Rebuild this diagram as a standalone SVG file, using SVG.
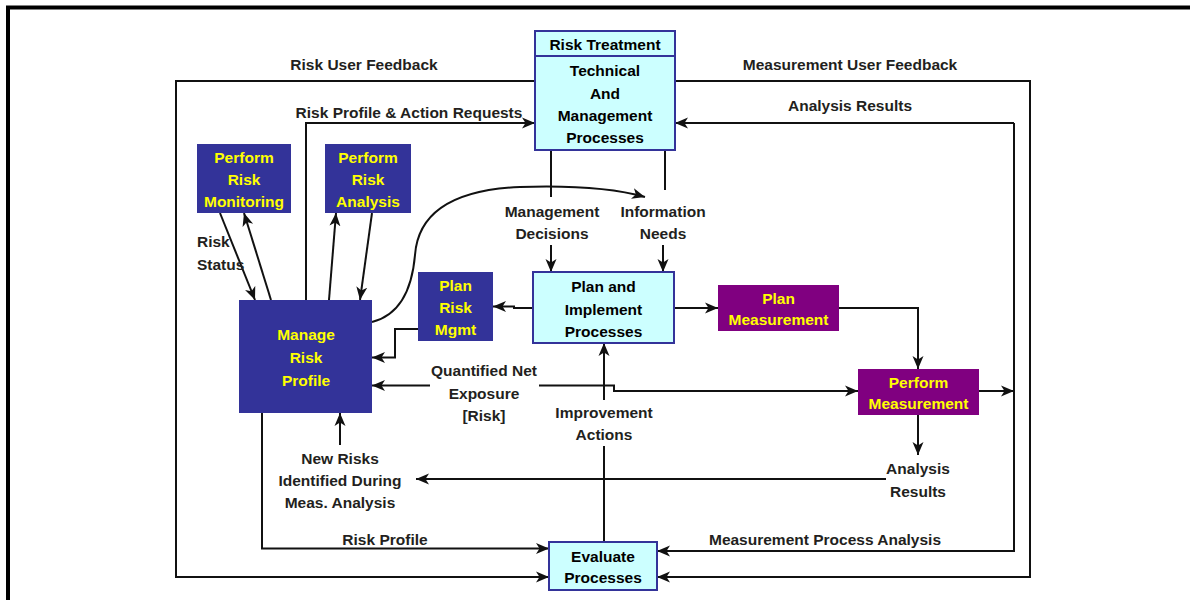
<svg xmlns="http://www.w3.org/2000/svg" width="1190" height="600" viewBox="0 0 1190 600">
  <defs>
    <marker id="arrow" markerUnits="userSpaceOnUse" markerWidth="14" markerHeight="12" refX="13" refY="6" orient="auto" viewBox="0 0 14 12">
      <path d="M0,0.5 L13,6 L0,11.5 L3.5,6 z" fill="#111"/>
    </marker>
  </defs>
  <style>
    text { font-family: "Liberation Sans", Arial, sans-serif; font-weight: bold; font-size: 15.5px; text-anchor: middle; }
    .lbl { fill: #231f20; }
    .start { text-anchor: start; }
    .dark { fill: #333399; }
    .purple { fill: #800080; }
    .cyan { fill: #ccffff; stroke: #333399; stroke-width: 2; }
    .ytxt { fill: #ffff00; }
    .btxt { fill: #000; }
    .line { fill: none; stroke: #111; stroke-width: 2; }
    .arr { marker-end: url(#arrow); }
  </style>

  <rect x="0" y="0" width="1190" height="600" fill="#fff"/>
  <!-- page frame -->
  <path d="M8,600 V7.5 H1190" fill="none" stroke="#000" stroke-width="4"/>

  <!-- connectors -->
  <g id="connectors">
    <!-- outer feedback loops -->
    <path class="line arr" d="M535,81 H176 V577 H549"/>
    <path class="line arr" d="M675,81 H1030 V577 H657"/>
    <!-- risk profile & action requests -->
    <path class="line arr" d="M306,300 V123 H535"/>
    <!-- measurement results loop -->
    <path class="line arr" d="M1014,123 H675"/>
    <path class="line arr" d="M1014,123 V551 H657"/>
    <path class="line arr" d="M979,391 H1014"/>
    <!-- risk profile to evaluation -->
    <path class="line arr" d="M262,413 V548.5 H549"/>
    <!-- risk monitoring -->
    <path class="line arr" d="M220,213 L255,300"/>
    <path class="line arr" d="M271,300 L244,213"/>
    <!-- risk analysis -->
    <path class="line arr" d="M329,300 L336,213"/>
    <path class="line arr" d="M372,213 L360,300"/>
    <!-- curved link to information needs -->
    <path class="line arr" d="M372,322 C400,315 412,290 415,255 C418,215 450,190 520,187 C580,185 620,190 645,197"/>
    <!-- management decisions / information needs -->
    <path class="line" d="M551,150 V197"/>
    <path class="line arr" d="M551,245 V272"/>
    <path class="line" d="M665,150 V190"/>
    <path class="line arr" d="M663,245 V272"/>
    <!-- plan and implement to plan risk mgmt -->
    <path class="line arr" d="M533,308 H514 V306.5 H493"/>
    <!-- plan risk mgmt to manage risk profile -->
    <path class="line arr" d="M418,329 H395 V357.5 H372"/>
    <!-- quantified net exposure -->
    <path class="line arr" d="M430,385.5 H372"/>
    <path class="line arr" d="M539,385.5 H614 V391 H858"/>
    <!-- improvement actions -->
    <path class="line" d="M604,542 V446"/>
    <path class="line arr" d="M604,400 V343"/>
    <!-- analysis results -->
    <path class="line arr" d="M918,415 V455"/>
    <path class="line arr" d="M886,479 H416"/>
    <path class="line arr" d="M340,445 V413"/>
    <!-- measurement planning -->
    <path class="line arr" d="M674,308 H718"/>
    <path class="line arr" d="M839,308 H918 V369"/>
  </g>

  <!-- connector labels -->
  <g id="labels">
    <text class="lbl" x="364" y="70">Risk User Feedback</text>
    <text class="lbl" x="850" y="70">Measurement User Feedback</text>
    <text class="lbl" x="409" y="118">Risk Profile &amp; Action Requests</text>
    <text class="lbl" x="850" y="111">Analysis Results</text>
    <text class="lbl start" x="197" y="247">Risk</text>
    <text class="lbl start" x="197" y="270">Status</text>
    <text class="lbl" x="552" y="217">Management</text>
    <text class="lbl" x="552" y="239">Decisions</text>
    <text class="lbl" x="663" y="217">Information</text>
    <text class="lbl" x="663" y="239">Needs</text>
    <text class="lbl" x="484" y="376">Quantified Net</text>
    <text class="lbl" x="484" y="399">Exposure</text>
    <text class="lbl" x="484" y="421">[Risk]</text>
    <text class="lbl" x="604" y="418">Improvement</text>
    <text class="lbl" x="604" y="440">Actions</text>
    <text class="lbl" x="918" y="474">Analysis</text>
    <text class="lbl" x="918" y="497">Results</text>
    <text class="lbl" x="340" y="464">New Risks</text>
    <text class="lbl" x="340" y="486">Identified During</text>
    <text class="lbl" x="340" y="508">Meas. Analysis</text>
    <text class="lbl" x="385" y="545">Risk Profile</text>
    <text class="lbl" x="825" y="545">Measurement Process Analysis</text>
  </g>

  <!-- nodes -->
  <g id="risk-treatment">
    <rect class="cyan" x="535" y="31" width="140" height="119"/>
    <line x1="535" y1="56" x2="675" y2="56" stroke="#333399" stroke-width="2"/>
    <text class="btxt" x="605" y="50">Risk Treatment</text>
    <text class="btxt" x="605" y="76">Technical</text>
    <text class="btxt" x="605" y="99">And</text>
    <text class="btxt" x="605" y="121">Management</text>
    <text class="btxt" x="605" y="143">Processes</text>
  </g>

  <g id="plan-implement">
    <rect class="cyan" x="533" y="272" width="141" height="71"/>
    <text class="btxt" x="603.5" y="292">Plan and</text>
    <text class="btxt" x="603.5" y="315">Implement</text>
    <text class="btxt" x="603.5" y="337">Processes</text>
  </g>

  <g id="evaluate">
    <rect class="cyan" x="549" y="542" width="108" height="48"/>
    <text class="btxt" x="603" y="562">Evaluate</text>
    <text class="btxt" x="603" y="583">Processes</text>
  </g>

  <g id="risk-monitoring">
    <rect class="dark" x="197" y="144" width="94" height="69"/>
    <text class="ytxt" x="244" y="162.5">Perform</text>
    <text class="ytxt" x="244" y="185">Risk</text>
    <text class="ytxt" x="244" y="207">Monitoring</text>
  </g>

  <g id="risk-analysis">
    <rect class="dark" x="325" y="144" width="86" height="69"/>
    <text class="ytxt" x="368" y="162.5">Perform</text>
    <text class="ytxt" x="368" y="185">Risk</text>
    <text class="ytxt" x="368" y="207">Analysis</text>
  </g>

  <g id="manage-risk-profile">
    <rect class="dark" x="239" y="300" width="133" height="113"/>
    <text class="ytxt" x="306" y="340">Manage</text>
    <text class="ytxt" x="306" y="363">Risk</text>
    <text class="ytxt" x="306" y="386">Profile</text>
  </g>

  <g id="plan-risk-mgmt">
    <rect class="dark" x="418" y="272" width="75" height="69"/>
    <text class="ytxt" x="455.5" y="290.5">Plan</text>
    <text class="ytxt" x="455.5" y="312.5">Risk</text>
    <text class="ytxt" x="455.5" y="334.5">Mgmt</text>
  </g>

  <g id="plan-measurement">
    <rect class="purple" x="718" y="285" width="121" height="46"/>
    <text class="ytxt" x="778.5" y="303.5">Plan</text>
    <text class="ytxt" x="778.5" y="325">Measurement</text>
  </g>

  <g id="perform-measurement">
    <rect class="purple" x="858" y="369" width="121" height="46"/>
    <text class="ytxt" x="918.5" y="387.5">Perform</text>
    <text class="ytxt" x="918.5" y="409">Measurement</text>
  </g>
</svg>
